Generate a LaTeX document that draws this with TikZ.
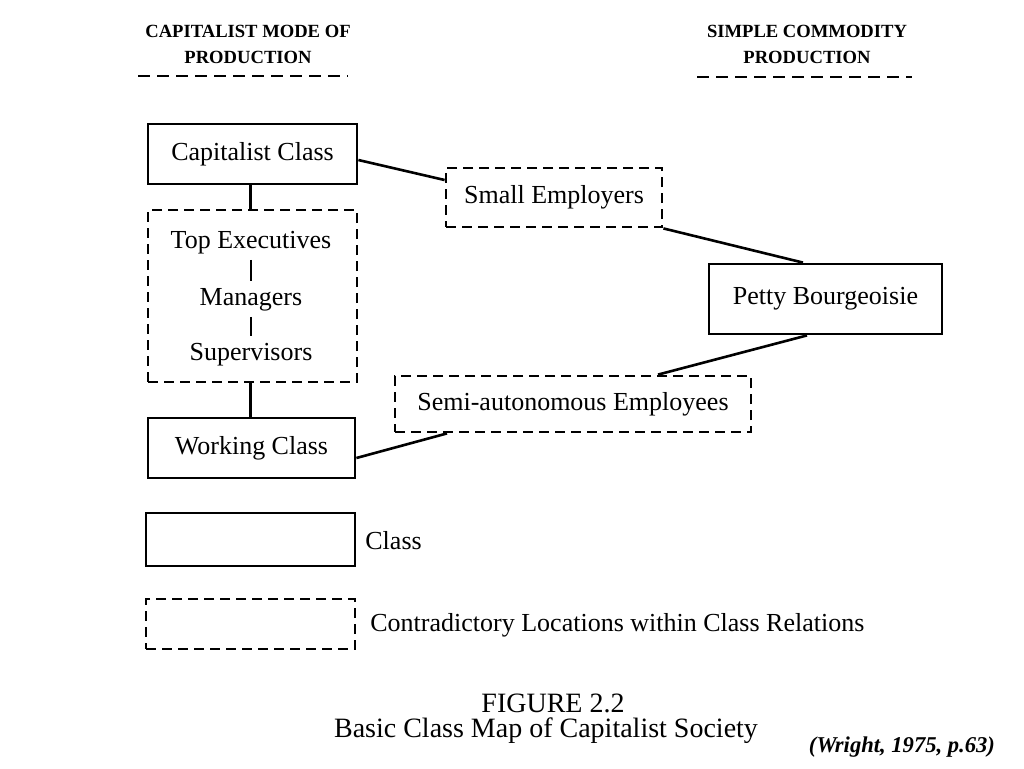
\documentclass[tikz,border=0pt]{standalone}
\usepackage{fontspec}
\setmainfont{Liberation Serif}
\begin{document}
\begin{tikzpicture}[x=0.5pt,y=-0.5pt,
    classbox/.style={draw,line width=1.4pt,inner sep=0pt},
    locbox/.style={draw,line width=1.4pt,dash pattern=on 5pt off 3pt,inner sep=0pt},
    txt/.style={font=\fontsize{13}{15}\selectfont},
    stack/.style={txt,text height=9pt,text depth=3pt,inner sep=2.75pt},
    head/.style={font=\fontsize{9.3}{13}\selectfont\bfseries,align=center},
    caption/.style={font=\fontsize{14}{16}\selectfont,anchor=base,inner sep=0pt},
    rule/.style={line width=1.4pt,dash pattern=on 6pt off 3.5pt},
    link/.style={line width=1.3pt}]
  \useasboundingbox (0,0) rectangle (1024,768);
  % headings
  \node[head] (capmode) at (248,44) {CAPITALIST MODE OF\\PRODUCTION};
  \node[head] (simple) at (807,44) {SIMPLE COMMODITY\\PRODUCTION};
  \draw[rule] (138,76) -- (348,76);
  \draw[rule] (697,77) -- (912,77);
  % classes and locations
  \node[classbox,txt,minimum width=104.5pt,minimum height=30pt] (cap) at (252.5,154) {Capitalist Class};
  \node[locbox,minimum width=104.5pt,minimum height=86pt] (mgmt) at (252.5,296) {};
  \node[stack] (top) at (251,242) {Top Executives};
  \node[stack] (mgr) at (251,299) {Managers};
  \node[stack] (sup) at (251,354) {Supervisors};
  \node[classbox,txt,minimum width=103.5pt,minimum height=30pt] (work) at (251.5,448) {Working Class};
  \node[locbox,txt,minimum width=108pt,minimum height=29.5pt] (small) at (554,197.5) {Small Employers};
  \node[classbox,txt,minimum width=116.5pt,minimum height=35pt] (petty) at (825.5,299) {Petty Bourgeoisie};
  \node[locbox,txt,minimum width=178pt,minimum height=28pt] (semi) at (573,404) {Semi-autonomous Employees};
  % connectors
  \draw[link] (top) -- (mgr);
  \draw[link] (mgr) -- (sup);
  \draw[link] ([xshift=-1pt]cap.south) -- ([xshift=-1pt]mgmt.north);
  \draw[link] ([xshift=-1pt]mgmt.south) -- ([xshift=-0.5pt]work.north);
  \draw[link] ([yshift=-3pt]cap.east) -- ([yshift=8.75pt]small.west);
  \draw[link] (small.south east) -- ([xshift=-11.25pt]petty.north);
  \draw[link] ([xshift=-9.25pt]petty.south) -- ([xshift=42.5pt]semi.north);
  \draw[link] ([yshift=-5pt]work.east) -- ([xshift=-63pt]semi.south);
  % legend
  \node[classbox,minimum width=104.5pt,minimum height=26.5pt] (keyclass) at (250.5,539.5) {};
  \node[txt,anchor=west,inner sep=0pt] (keyclasstxt) at (365,541) {Class};
  \node[locbox,minimum width=104.5pt,minimum height=25pt] (keyloc) at (250.5,624) {};
  \node[txt,anchor=west,inner sep=0pt] (keyloctxt) at (370,625) {Contradictory Locations within Class Relations};
  % caption
  \node[caption] (fig) at (553,712) {FIGURE 2.2};
  \node[caption] (figtitle) at (546,737) {Basic Class Map of Capitalist Society};
  \node[font=\fontsize{11.3}{13}\selectfont\bfseries\itshape] (source) at (902,747) {(Wright, 1975, p.63)};
\end{tikzpicture}
\end{document}
